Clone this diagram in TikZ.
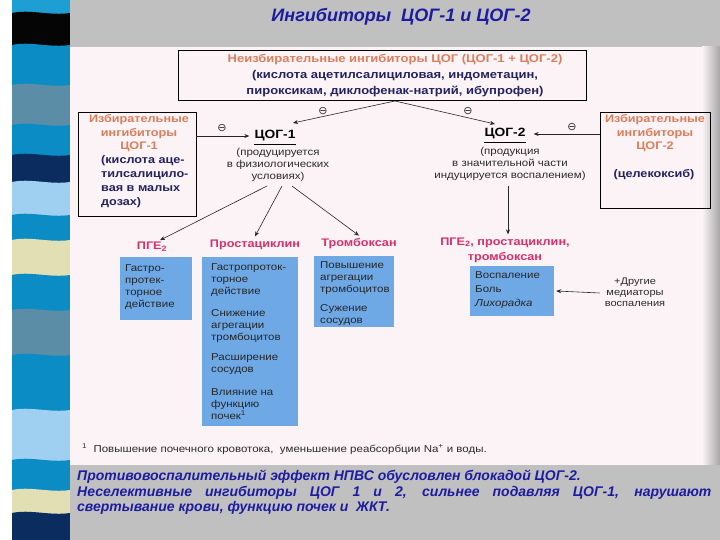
\documentclass[tikz,border=0pt]{standalone}
\usepackage{fontspec}
\setmainfont[FakeStretch=1.15]{Liberation Sans}
\newfontfamily\plainsans{Liberation Sans}
\newfontfamily\dejavu{DejaVu Sans}
\usetikzlibrary{arrows.meta}
\definecolor{cyanS}{HTML}{1D9FD3}
\definecolor{blackS}{HTML}{050505}
\definecolor{blueS}{HTML}{0B8CC4}
\definecolor{greyS}{HTML}{5B8DA6}
\definecolor{navyS}{HTML}{0B2C5F}
\definecolor{lightS}{HTML}{9FD0F2}
\definecolor{creamS}{HTML}{E3DFB5}
\definecolor{bandgray}{HTML}{C0C0C0}
\definecolor{pinkbg}{HTML}{FCF3F7}
\definecolor{titleblue}{HTML}{1C1CA0}
\definecolor{orangetxt}{HTML}{DB7E5A}
\definecolor{crimson}{HTML}{D8306A}
\definecolor{darktxt}{HTML}{23235E}
\definecolor{boxblue}{HTML}{6EA9E6}
\definecolor{graytxt}{HTML}{2A2A2A}
\newcommand\stripeband[2]{\fill[#1] (12,#2) .. controls (30,#2-4) and (50,#2+3) .. (70,#2) -- (70,540) -- (12,540) -- cycle;}
\tikzset{
  txt/.style={inner sep=0, text=graytxt, font=\fontsize{10}{12}\selectfont},
  desc/.style={txt, align=center},
  cog/.style={inner sep=0, text=black, font=\bfseries\fontsize{12}{14}\selectfont},
  orng/.style={inner sep=0, align=center, text=orangetxt, font=\bfseries\fontsize{11}{13.5}\selectfont},
  dblue/.style={inner sep=0, text=darktxt, font=\bfseries\fontsize{11}{14}\selectfont},
  frame/.style={draw=black, line width=0.7pt, inner sep=0},
  bluebox/.style={fill=boxblue, inner sep=0},
  boxtxt/.style={txt, anchor=north west, align=left, text=black!85},
  lab/.style={inner sep=0, text=crimson, font=\bfseries\fontsize{11}{15}\selectfont, align=center},
  arr/.style={-{Stealth[length=5pt,width=4pt]}, line width=0.6pt, black!85},
  minus/.style={inner sep=0, font=\dejavu\fontsize{11}{11}\selectfont, text=black!80},
  bigtxt/.style={inner sep=0, text=titleblue, font=\plainsans\bfseries\itshape\fontsize{14}{15.5}\selectfont}
}
\begin{document}
\begin{tikzpicture}[x=1pt,y=-1pt]
\useasboundingbox (0,0) rectangle (720,540);
\fill[white] (0,0) rectangle (720,540);
% left decorative stripe
\fill[cyanS] (12,0) rectangle (70,540);
\stripeband{blackS}{13}
\stripeband{blueS}{45}
\stripeband{greyS}{85}
\stripeband{blueS}{125}
\stripeband{navyS}{155}
\stripeband{lightS}{182}
\stripeband{blueS}{215}
\stripeband{creamS}{240}
\stripeband{blueS}{275}
\stripeband{greyS}{310}
\stripeband{blueS}{355}
\stripeband{lightS}{410}
\stripeband{blueS}{460}
\stripeband{creamS}{490}
\stripeband{navyS}{513}
% bands and picture area
\fill[bandgray] (70,0) rectangle (720,47);
\fill[pinkbg] (70,47) rectangle (720,465);
\shade[left color=pinkbg, right color=black!35] (702,47) rectangle (720,465);
\fill[bandgray] (70,465) rectangle (720,540);
% title
\node[inner sep=0, text=titleblue, font=\plainsans\bfseries\itshape\fontsize{18}{20}\selectfont] (title) at (401,17) {Ингибиторы\ \ ЦОГ-1 и ЦОГ-2};
% top box
\node[frame, minimum width=408pt, minimum height=50pt] (top) at (382,75) {};
\node[inner sep=0, align=center, font=\bfseries\fontsize{11.3}{16}\selectfont, text=darktxt] (toptxt) at (395,76)
  {\textcolor{orangetxt}{Неизбирательные ингибиторы ЦОГ (ЦОГ-1 + ЦОГ-2)}\\
   (кислота ацетилсалициловая, индометацин,\\
   пироксикам, диклофенак-натрий, ибупрофен)};
% left box
\node[frame, minimum width=118pt, minimum height=104pt] (lbox) at (137,164) {};
\node[orng] (lhead) at (139,133.5) {Избирательные\\ингибиторы\\ЦОГ-1};
\node[dblue, anchor=north west, align=left] (ltxt) at (101,155.5) {(кислота аце-\\тилсалицило-\\вая в малых\\дозах)};
% right box
\node[frame, minimum width=110pt, minimum height=96pt] (rbox) at (655,160) {};
\node[orng] (rhead) at (655,133.5) {Избирательные\\ингибиторы\\ЦОГ-2};
\node[dblue] (rtxt) at (654,175) {(целекоксиб)};
% COX nodes
\node[cog] (c1) at (275,136) {ЦОГ-1};
\draw[line width=0.6pt] ([yshift=-2.5pt]c1.south west) -- ([yshift=-2.5pt]c1.south east);
\node[desc] (c1d) at (278,164.5) {(продуцируется\\в физиологических\\условиях)};
\node[cog] (c2) at (505,134) {ЦОГ-2};
\draw[line width=0.6pt] ([yshift=-2.5pt]c2.south west) -- ([yshift=-2.5pt]c2.south east);
\node[desc] (c2d) at (510,163.5) {(продукция\\в значительной части\\индуцируется воспалением)};
% minus signs
\node[minus] (m1) at (323,111) {⊖};
\node[minus] (m2) at (468,111) {⊖};
\node[minus] (m3) at (222,128) {⊖};
\node[minus] (m4) at (572,127) {⊖};
% inhibition arrows
\coordinate (tb) at (395,101);
\coordinate (t1) at (293,123);
\coordinate (t2) at (495,124);
\draw[arr] (tb) -- (t1);
\draw[arr] (tb) -- (t2);
\draw[arr] (lbox.east |- c1.west) -- ([xshift=-5pt]c1.west);
\draw[arr] (rbox.west |- c2.east) -- ([xshift=8pt]c2.east);
% products labels
\node[lab] (pge) at (152,247) {ПГЕ\textsubscript{2}};
\node[lab] (pci) at (255,244.5) {Простациклин};
\node[lab] (tbx) at (359,244) {Тромбоксан};
\node[lab] (all) at (505,250) {ПГЕ\textsubscript{2}, простациклин,\\тромбоксан};
% arrows from COX
\coordinate (a1) at (267,186);
\coordinate (a2) at (282,186);
\coordinate (a3) at (292,186);
\draw[arr] (a1) -- ([xshift=8pt,yshift=2pt]pge.north);
\draw[arr] (a2) -- ([yshift=3pt]pci.north);
\draw[arr] (a3) -- ([yshift=3pt]tbx.north);
\coordinate (a4) at (508,186);
\draw[arr] (a4) -- ([yshift=3pt]all.north -| a4);
% blue boxes
\node[bluebox, minimum width=72pt, minimum height=63pt] (b1) at (156,288.5) {};
\node[boxtxt] (b1t) at (125,264) {Гастро-\\протек-\\торное\\действие};
\node[bluebox, minimum width=96pt, minimum height=169pt] (b2) at (250,341.5) {};
\node[boxtxt] (b2t) at (211,263) {Гастропроток-\\торное\\действие\\[10pt]Снижение\\агрегации\\тромбоцитов\\[8pt]Расширение\\сосудов\\[11pt]Влияние на\\функцию\\почек\textsuperscript{1}};
\node[bluebox, minimum width=80pt, minimum height=71pt] (b3) at (354,291.5) {};
\node[boxtxt] (b3t) at (320,261) {Повышение\\агрегации\\тромбоцитов\\[7pt]Сужение\\сосудов};
\node[bluebox, minimum width=84pt, minimum height=50pt] (b4) at (512,291) {};
\node[boxtxt, font=\fontsize{10}{14}\selectfont] (b4t) at (475,271) {Воспаление\\Боль\\\textit{Лихорадка}};
\node[desc, font=\fontsize{9.6}{11}\selectfont] (oth) at (635,292) {+Другие\\медиаторы\\воспаления};
\draw[arr] ([xshift=-5pt,yshift=-1pt]oth.west) -- ([xshift=2pt]b4.east);
% footnote
\node[txt, anchor=west, font=\fontsize{10}{12}\selectfont] (fn) at (82,449) {\textsuperscript{1}\ \ Повышение почечного кровотока,\ \ уменьшение реабсорбции Na\textsuperscript{+} и воды.};
% bottom text
\node[bigtxt, anchor=north west, text width=634pt, align=justify] (bot) at (77,470)
  {Противовоспалительный эффект НПВС обусловлен блокадой ЦОГ-2.\\
   Неселективные ингибиторы ЦОГ 1 и 2, сильнее подавляя ЦОГ-1, нарушают\linebreak
   свертывание крови, функцию почек и\ \ ЖКТ.};
\end{tikzpicture}
\end{document}
